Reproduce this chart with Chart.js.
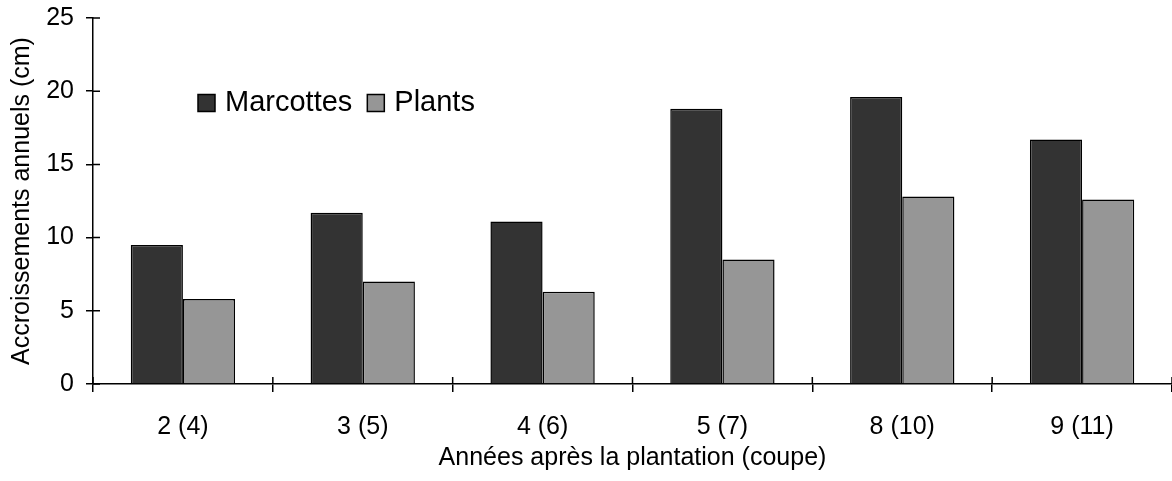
<!DOCTYPE html>
<html>
<head>
<meta charset="utf-8">
<script src="https://cdn.jsdelivr.net/npm/chart.js@4.4.1/dist/chart.umd.min.js"></script>
<style>
  html, body { margin: 0; padding: 0; background: #fff; }
  #wrap { width: 1172px; height: 481px; }
</style>
</head>
<body>
<div id="wrap"><canvas id="growth"></canvas></div>
<script>
// ─── Data ───
const categories = ['2 (4)', '3 (5)', '4 (6)', '5 (7)', '8 (10)', '9 (11)'];
const marcottes  = [9.5, 11.7, 11.1, 18.8, 19.6, 16.7];
const plants     = [5.8, 7.0, 6.3, 8.5, 12.8, 12.6];
const seriesNames = ['Marcottes', 'Plants'];
const yMin = 0, yMax = 25, yStep = 5;

const FONT = 'Liberation Sans, Arial, sans-serif';
Chart.defaults.font.family = FONT;
Chart.defaults.color = '#000';

// ─── Ticks that cross the axis lines (inner half) ───
const innerTicks = {
  id: 'innerTicks',
  afterDatasetsDraw(chart, args, opts) {
    const { ctx, chartArea: a, scales: { x, y } } = chart;
    const len = opts.length;
    ctx.save();
    ctx.strokeStyle = '#000';
    ctx.lineWidth = 1.5;
    ctx.beginPath();
    y.ticks.forEach(t => {
      const py = y.getPixelForValue(t.value);
      ctx.moveTo(a.left, py);
      ctx.lineTo(a.left + len, py);
    });
    const step = x.getPixelForTick(1) - x.getPixelForTick(0);
    for (let i = 0; i <= x.ticks.length; i++) {
      const px = x.getPixelForTick(0) - step / 2 + i * step;
      ctx.moveTo(px, a.bottom);
      ctx.lineTo(px, a.bottom - len);
    }
    ctx.stroke();
    ctx.restore();
  }
};

// ─── Legend drawn inside the plot ───
const inlineLegend = {
  id: 'inlineLegend',
  afterDraw(chart, args, opts) {
    const { ctx } = chart;
    ctx.save();
    ctx.font = opts.fontSize + 'px ' + FONT;
    ctx.textBaseline = 'middle';
    let x = opts.x;
    chart.data.datasets.forEach(ds => {
      ctx.fillStyle = ds.backgroundColor;
      ctx.fillRect(x, opts.y - opts.box / 2, opts.box, opts.box);
      ctx.strokeStyle = '#000';
      ctx.lineWidth = 1.5;
      ctx.strokeRect(x, opts.y - opts.box / 2, opts.box, opts.box);
      ctx.fillStyle = '#000';
      ctx.fillText(ds.label, x + opts.box + opts.gap, opts.y);
      x += opts.box + opts.gap + ctx.measureText(ds.label).width + opts.spacing;
    });
    ctx.restore();
  }
};

new Chart(document.getElementById('growth'), {
  type: 'bar',
  data: {
    labels: categories,
    datasets: [
      { label: seriesNames[0], data: marcottes, backgroundColor: '#333333', borderColor: '#000', borderWidth: 1.5 },
      { label: seriesNames[1], data: plants,    backgroundColor: '#969696', borderColor: '#000', borderWidth: 1.5 },
    ],
  },
  options: {
    responsive: true,
    maintainAspectRatio: false,
    animation: false,
    layout: { padding: { top: 18, right: 0, bottom: 0, left: 0 } },
    datasets: { bar: { categoryPercentage: 0.58, barPercentage: 1.0 } },
    plugins: {
      legend: { display: false },
      tooltip: { enabled: false },
      innerTicks: { length: 7 },
      inlineLegend: { x: 198, y: 103, box: 17, gap: 10, spacing: 15, fontSize: 29 },
    },
    scales: {
      x: {
        grid: { display: true, drawOnChartArea: false, drawTicks: true, tickLength: 8, color: '#000', lineWidth: 1.5, offset: true },
        border: { display: true, color: '#000', width: 1.5 },
        ticks: { font: { size: 25 }, padding: 20, color: '#000' },
        title: { display: true, text: 'Années après la plantation (coupe)', font: { size: 25 }, color: '#000', padding: { top: 0, bottom: 8 } },
        afterFit(scale) { scale.height = 97; scale.paddingLeft = 0; scale.paddingRight = 0; },
      },
      y: {
        min: yMin,
        max: yMax,
        grid: { display: true, drawOnChartArea: false, drawTicks: true, tickLength: 7, color: '#000', lineWidth: 1.5 },
        border: { display: true, color: '#000', width: 1.5 },
        ticks: { stepSize: yStep, font: { size: 25 }, padding: 12, color: '#000' },
        title: { display: true, text: 'Accroissements annuels (cm)', font: { size: 25 }, color: '#000', padding: { top: 7, bottom: 0 } },
        afterFit(scale) { scale.width = 93; scale.paddingTop = 0; scale.paddingBottom = 0; },
      },
    },
  },
  plugins: [innerTicks, inlineLegend],
});
</script>
</body>
</html>
